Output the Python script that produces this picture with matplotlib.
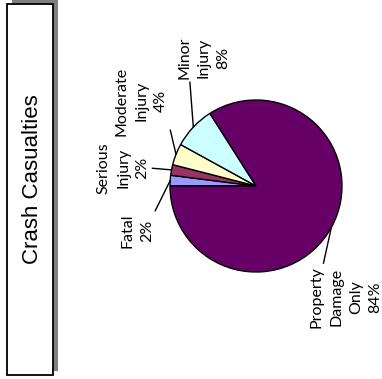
import numpy as np
import matplotlib
matplotlib.use("Agg")
import matplotlib.pyplot as plt
from matplotlib.patches import Rectangle

categories = ["Fatal", "Serious\nInjury", "Moderate\nInjury", "Minor\nInjury", "Property\nDamage\nOnly"]
shares = [2, 2, 4, 8, 84]
colors = ["#9999FF", "#993366", "#FFFFCC", "#CCFFFF", "#660066"]

W, H = 382, 379
fig = plt.figure(figsize=(W / 100, H / 100), dpi=100)
fig.patch.set_facecolor("white")

# title box with shadow (figure pixel coords, y up)
def px(x0, y0, x1, y1):
    return (x0 / W, 1 - y1 / H), (x1 - x0) / W, (y1 - y0) / H

xy, w, h = px(12, 0, 58, 371)
fig.patches.append(Rectangle(xy, w, h, transform=fig.transFigure, facecolor="#808080", edgecolor="none"))
xy, w, h = px(7, 4, 53, 375)
fig.patches.append(Rectangle(xy, w, h, transform=fig.transFigure, facecolor="white", edgecolor="black", linewidth=1.3))
fig.text(33 / W, 1 - 179 / H, "Crash Casualties", rotation=90, ha="center", va="center",
         fontsize=16, family="Liberation Sans")

ax = fig.add_axes([0, 0, 1, 1])

cx, cy, R = 256, H - 186, 86
wedges, _ = ax.pie(shares, colors=colors, startangle=180, counterclock=False,
                   center=(cx, cy), radius=R, frame=True,
                   wedgeprops=dict(edgecolor="black", linewidth=1))
ax.set_xlim(0, W)
ax.set_ylim(0, H)
ax.set_aspect("equal")
ax.axis("off")

# label placement (image px: x, y from top) and where the leader leaves the text box
label_pos = [(137, 231), (123, 168), (141, 101), (204, 58), (346, 297)]
rel = [(1.0, 1.0), (1.0, 0.5), (1.0, 0.25), (0.23, 0.0), (0.18, 1.0)]

for wdg, name, val, (lx, ly), rp in zip(wedges, categories, shares, label_pos, rel):
    mid = np.deg2rad((wdg.theta1 + wdg.theta2) / 2)
    ex, ey = cx + R * np.cos(mid), cy + R * np.sin(mid)
    ax.annotate(f"{name}\n{val}%", xy=(ex, ey), xytext=(lx, H - ly), textcoords="data",
                rotation=90, ha="center", va="center", multialignment="center",
                fontsize=11.5, family="Lato", linespacing=1.5,
                arrowprops=dict(arrowstyle="-", color="black", lw=1, relpos=rp,
                                shrinkA=0, shrinkB=0))

fig.savefig("out.png", dpi=100)
